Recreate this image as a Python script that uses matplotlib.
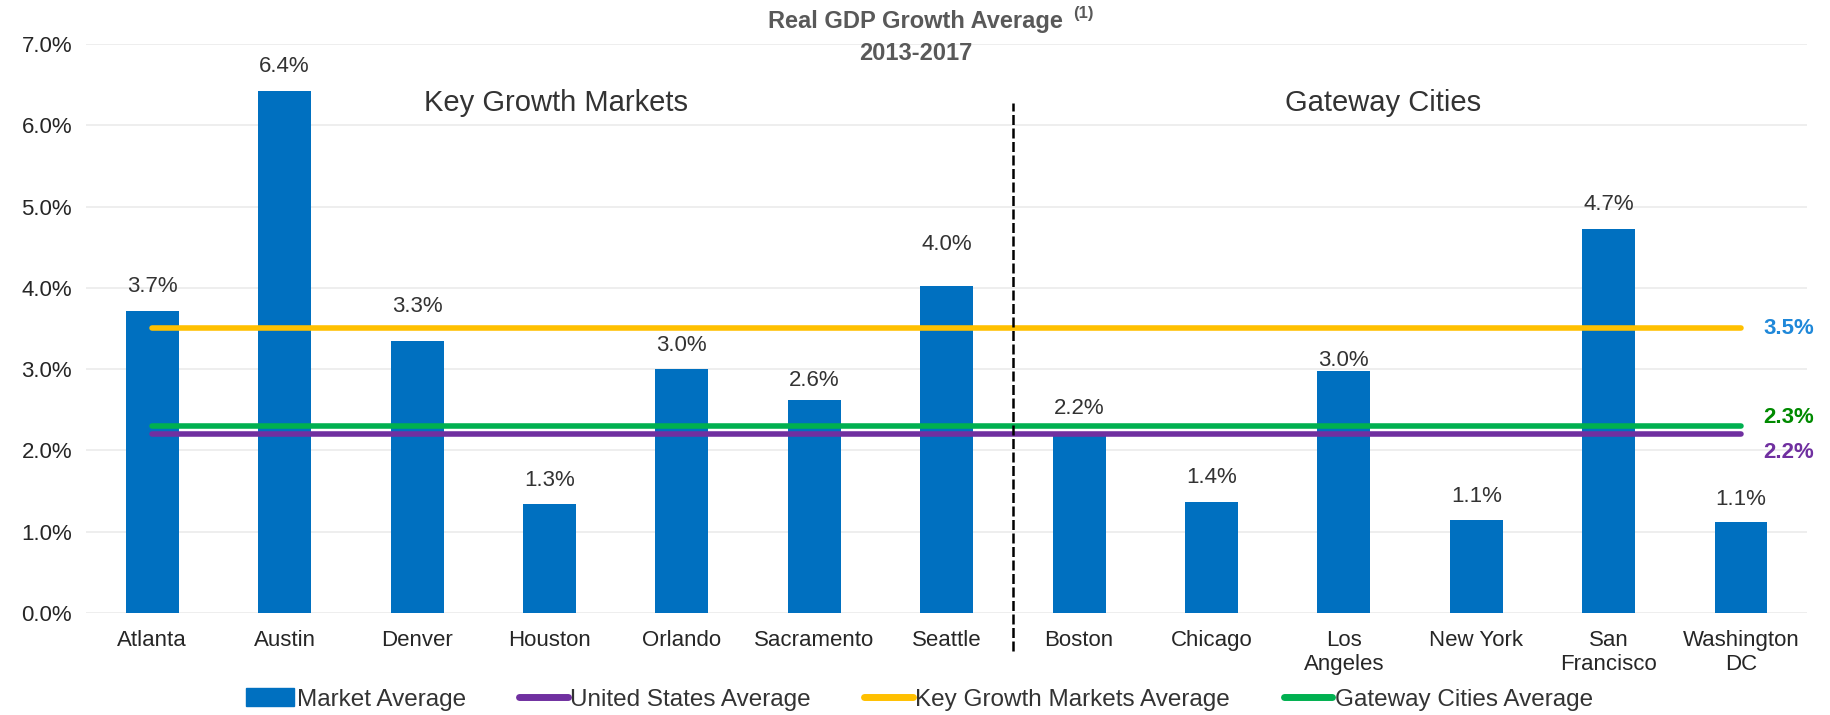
import matplotlib
matplotlib.use("Agg")
import matplotlib.pyplot as plt
from matplotlib.lines import Line2D
from matplotlib.patches import Patch
import numpy as np

plt.rcParams["font.family"] = ["Liberation Sans", "DejaVu Sans"]

# ---- data ---------------------------------------------------------
markets = ["Atlanta", "Austin", "Denver", "Houston", "Orlando", "Sacramento",
           "Seattle", "Boston", "Chicago", "Los\nAngeles", "New York",
           "San\nFrancisco", "Washington\nDC"]
growth = [3.72, 6.42, 3.34, 1.34, 3.00, 2.62, 4.02, 2.23, 1.36, 2.98, 1.14,
          4.72, 1.12]
us_avg = 2.2
key_growth_avg = 3.5
gateway_avg = 2.3
n_key = 7  # first 7 markets are key growth markets

# label offsets (points above bar top), hand-placed as in the source
label_offsets = [17, 18, 25, 17, 17, 14, 30, 17, 18, 7.5, 17, 18, 16]

BAR = "#0070C0"
PURPLE = "#7030A0"
ORANGE = "#FFC000"
GREEN = "#00B050"
TXT = "#333333"

fig = plt.figure(figsize=(18.31, 7.15), dpi=100)
ax = fig.add_axes([0.047, 0.1427, 0.940, 0.7958])

x = np.arange(len(markets))
ax.bar(x, growth, width=0.4, color=BAR, zorder=2)
for xi, v, off in zip(x, growth, label_offsets):
    ax.annotate(f"{v:.1f}%", xy=(xi, v), xytext=(0, off), textcoords="offset points",
                ha="center", va="center", fontsize=16, color=TXT)

# average lines
for val, col in [(key_growth_avg, ORANGE), (gateway_avg, GREEN), (us_avg, PURPLE)]:
    ax.plot([x[0], x[-1]], [val, val], color=col, lw=4,
            solid_capstyle="round", zorder=3)

ax.annotate(f"{key_growth_avg:.1f}%", xy=(x[-1], key_growth_avg), xytext=(16, 0),
            textcoords="offset points", ha="left", va="center", fontsize=16,
            weight="bold", color="#1F88D9", annotation_clip=False)
ax.annotate(f"{gateway_avg:.1f}%", xy=(x[-1], gateway_avg), xytext=(16, 6),
            textcoords="offset points", ha="left", va="center", fontsize=16,
            weight="bold", color="#008A00", annotation_clip=False)
ax.annotate(f"{us_avg:.1f}%", xy=(x[-1], us_avg), xytext=(16, -13),
            textcoords="offset points", ha="left", va="center", fontsize=16,
            weight="bold", color=PURPLE, annotation_clip=False)

# divider between groups
ax.plot([n_key - 0.5, n_key - 0.5], [-0.47, 6.27], color="black", lw=1.8,
        dashes=(4, 1.4), clip_on=False, zorder=4)
ax.text(3.05, 6.27, "Key Growth Markets", ha="center", va="center",
        fontsize=21, color=TXT)
ax.text(9.3, 6.27, "Gateway Cities", ha="center", va="center",
        fontsize=21, color=TXT)

# axes styling
ax.set_xlim(-0.5, len(markets) - 0.5)
ax.set_ylim(0, 7)
ax.set_yticks(np.arange(0, 8, 1))
ax.yaxis.set_major_formatter(lambda v, p: f"{v:.1f}%")
ax.set_xticks(x)
ax.set_xticklabels(markets)
ax.tick_params(length=0, labelsize=16, labelcolor="#262626")
ax.tick_params(axis="x", pad=12)
ax.tick_params(axis="y", pad=10)
ax.grid(axis="y", color="#EBEBEB", lw=1.2, zorder=0)
ax.set_axisbelow(True)
for s in ax.spines.values():
    s.set_visible(False)

# title
t = fig.text(0.5, 0.97, "Real GDP Growth Average", ha="center", va="center",
             fontsize=17, weight="bold", color="#595959")
fig.text(0.5, 0.925, "2013-2017", ha="center", va="center",
         fontsize=17, weight="bold", color="#595959")
ax.annotate("(1)", xy=(1.0, 1.0), xycoords=t, xytext=(7, 3),
            textcoords="offset points", ha="left", va="top", fontsize=12,
            weight="bold", color="#595959", annotation_clip=False)

# legend
handles = [Patch(color=BAR),
           Line2D([], [], color=PURPLE, lw=5, solid_capstyle="round"),
           Line2D([], [], color=ORANGE, lw=5, solid_capstyle="round"),
           Line2D([], [], color=GREEN, lw=5, solid_capstyle="round")]
labels = ["Market Average", "United States Average",
          "Key Growth Markets Average", "Gateway Cities Average"]
fig.legend(handles, labels, loc="center", bbox_to_anchor=(0.502, 0.022), ncol=4,
           frameon=False, fontsize=17.5, handlelength=2.0, handleheight=0.8,
           handletextpad=0.1, columnspacing=2.2, labelcolor=TXT)

fig.savefig("out.png", dpi=100)
